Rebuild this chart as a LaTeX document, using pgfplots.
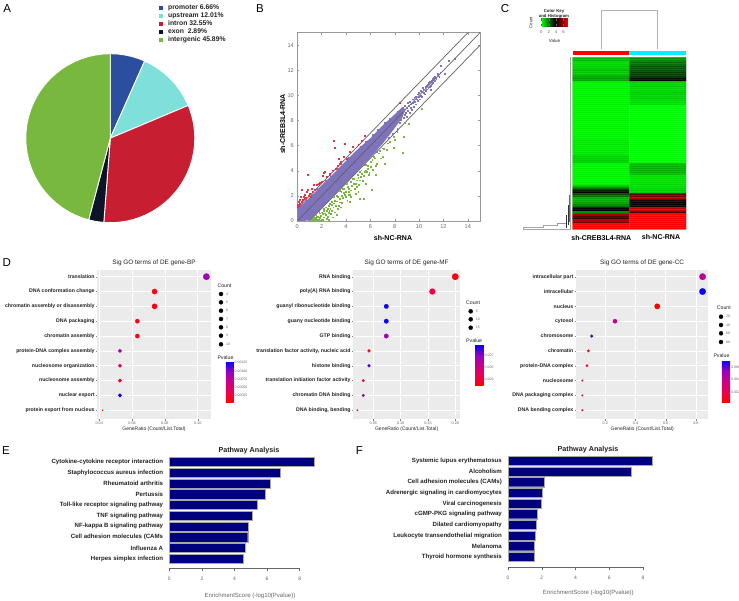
\documentclass[border=0pt]{standalone}
\usepackage{pgfplots}
\pgfplotsset{compat=1.18}
\usepackage{fontspec}
\setmainfont{Liberation Sans}
\pgfkeys{/pgf/number format/assume math mode=true}
\newcommand{\fs}[1]{\fontsize{#1}{#1}\selectfont}

\definecolor{pblue}{HTML}{2B4F9E}
\definecolor{pcyan}{HTML}{7FDFD9}
\definecolor{pred}{HTML}{C81E32}
\definecolor{pdark}{HTML}{0E1428}
\definecolor{pgreen}{HTML}{78B83F}
\definecolor{cloud}{HTML}{7F74BC}
\definecolor{panelgray}{HTML}{EBEBEB}
\definecolor{navybar}{HTML}{00007F}
\definecolor{labelgray}{HTML}{222222}
\definecolor{tickgray}{HTML}{666666}
\definecolor{stripred}{RGB}{255,0,0}
\definecolor{stripcyan}{RGB}{0,240,255}
\definecolor{upred}{RGB}{225,50,70}

\pgfplotsset{
  colormap={rb}{rgb255(0cm)=(255,0,0); rgb255(1cm)=(235,0,80); rgb255(2cm)=(200,0,135); rgb255(3cm)=(150,0,190); rgb255(4cm)=(0,0,255)},
  colormap={gbr}{rgb255(0cm)=(0,255,0); rgb255(1cm)=(0,0,0); rgb255(2cm)=(255,0,0)},
  goaxis/.style={
    scale only axis, height=149pt, ymin=0.55, ymax=10.59, y dir=reverse,
    ytick={1,...,10}, colormap name=rb,
    axis background/.style={fill=panelgray},
    grid=major, grid style={white,line width=0.5pt},
    axis line style={draw=none}, tick style={draw=gray,line width=0.3pt},
    major tick length=1.5pt, tick align=outside, tick pos=left,
    yticklabel style={font=\fs{5.2}\bfseries,text=labelgray,inner sep=1pt},
    xticklabel style={font=\fs{3.8},text=tickgray,inner sep=1pt},
    title style={font=\fs{6.4},text=labelgray,yshift=-5pt},
    xlabel style={font=\fs{5},text=labelgray,at={(axis description cs:0.5,-0.067)},anchor=center},
    xlabel={GeneRatio (Count/List.Total)},
  },
  gocbar/.style n args={5}{
    colorbar,
    colorbar style={
      at={(parent axis.south west)}, anchor=south west, xshift=#1pt, yshift=#2pt,
      scale only axis, width=#3pt, height=#4pt,
      ytick={#5}, yticklabels={#5}, scaled y ticks=false, ytick style={draw=none},
      yticklabel style={font=\fs{3.5},text=tickgray,inner sep=1pt},
      axis line style={draw=none},
    },
  },
  dots/.style={
    scatter, only marks, mark=*, line width=0.1pt,
    scatter/use mapped color={draw=mapped color,fill=mapped color},
    point meta=\thisrow{p},
    visualization depends on={\thisrow{r} \as \rad},
    scatter/@pre marker code/.append style={/tikz/mark size=\rad pt},
  },
  keydots/.style={
    scatter, only marks, mark=*,
    scatter/use mapped color={draw=black,fill=black},
    point meta=\thisrow{r},
    visualization depends on={\thisrow{r} \as \rad},
    visualization depends on={value \thisrow{l} \as \lab},
    scatter/@pre marker code/.append style={/tikz/mark size=\rad pt},
    nodes near coords={\lab},
    every node near coord/.style={font=\fs{3.5},text=tickgray,anchor=west,inner sep=0pt,xshift=5pt},
  },
  pathbar/.style={
    scale only axis, xmin=0, y dir=reverse, xtick={0,2,4,6,8}, ytick={0,...,9},
    axis x line*=bottom, axis y line*=left,
    x axis line style={draw=none,-}, y axis line style={draw=none,-},
    ytick style={draw=none}, xtick style={draw=tickgray,line width=0.4pt},
    major tick length=3pt, tick align=outside, clip=false,
    yticklabel style={font=\fs{6.1}\bfseries,text=labelgray,inner sep=0pt,xshift=-3pt},
    xticklabel style={font=\fs{5},text=tickgray,inner sep=2pt,yshift=-4pt},
    title style={font=\fs{7.2}\bfseries,text=labelgray,yshift=-6pt},
    xlabel style={font=\fs{6},text=tickgray,anchor=center},
    xlabel={EnrichmentScore (-log10(Pvalue))},
    title={Pathway Analysis},
    bar width=9.2pt,
  },
}

\begin{document}
\begin{tikzpicture}
\useasboundingbox (0,0) rectangle (739pt,600pt);

% A: pie, angles run clockwise from the top
\begin{axis}[
  at={(25.8pt,377.3pt)}, anchor=south west, scale only axis, width=169pt, height=169pt,
  xmin=-1, xmax=1, ymin=-1, ymax=1, hide axis, clip=false,
  legend style={at={(0.785,1.29)},anchor=north west,draw=none,fill=none,
    font=\fs{6.8}\bfseries,text=labelgray,row sep=1.5pt,inner sep=0pt,
    nodes={text height=5pt,text depth=1.5pt,inner ysep=0pt}},
  legend cell align=left,
  legend image code/.code={\fill[#1,draw=none] (0pt,-2pt) rectangle (4.4pt,2pt); \path[draw=none] (0pt,0pt) -- (7.5pt,0pt);},
  every axis plot/.append style={data cs=polar,draw=white,line width=0.9pt,line join=round},
]
\addplot[fill=pblue] coordinates {(90,0)(90,1)(85,1)(80,1)(75,1)(70,1)(66,1)(66,0)} --cycle;
\addplot[fill=pcyan] coordinates {(66,0)(66,1)(60,1)(55,1)(50,1)(45,1)(40,1)(35,1)(30,1)(25,1)(22.8,1)(22.8,0)} --cycle;
\addplot[fill=pred] coordinates {(22.8,0)(22.8,1)(20,1)(15,1)(10,1)(5,1)(0,1)(-5,1)(-10,1)(-15,1)(-20,1)(-25,1)(-30,1)(-35,1)(-40,1)(-45,1)(-50,1)(-55,1)(-60,1)(-65,1)(-70,1)(-75,1)(-80,1)(-85,1)(-90,1)(-94.4,1)(-94.4,0)} --cycle;
\addplot[fill=pdark] coordinates {(-94.4,0)(-94.4,1)(-100,1)(-104.8,1)(-104.8,0)} --cycle;
\addplot[fill=pgreen] coordinates {(-104.8,0)(-104.8,1)(-110,1)(-115,1)(-120,1)(-125,1)(-130,1)(-135,1)(-140,1)(-145,1)(-150,1)(-155,1)(-160,1)(-165,1)(-170,1)(-175,1)(-180,1)(-185,1)(-190,1)(-195,1)(-200,1)(-205,1)(-210,1)(-215,1)(-220,1)(-225,1)(-230,1)(-235,1)(-240,1)(-245,1)(-250,1)(-255,1)(-260,1)(-265,1)(-270,1)(-270,0)} --cycle;
\legend{promoter 6.66\%,upstream 12.01\%,intron 32.55\%,exon\ \ 2.89\%,intergenic 45.89\%}
\end{axis}

% B: scatter
\begin{axis}[
  at={(297.3pt,379pt)}, anchor=south west, scale only axis, width=182.7pt, height=188.3pt,
  xmin=0, xmax=15, ymin=0, ymax=15, xtick={0,2,...,14}, ytick={0,2,...,14},
  tick align=inside, major tick length=2pt,
  axis line style={draw=gray!80,line width=0.9pt}, tick style={draw=gray!80,line width=0.4pt},
  ticklabel style={font=\fs{5.6},text=tickgray},
  xlabel={sh-NC-RNA}, ylabel={sh-CREB3L4-RNA},
  label style={font=\fs{7}\bfseries,text=black},
  xlabel style={at={(axis description cs:0.524,-0.09)},anchor=center},
  ylabel style={at={(axis description cs:-0.08,0.515)},anchor=center},
]
% red, up
\addplot[only marks,mark=square*,mark size=0.45pt,color=upred,mark options={draw=none}] coordinates {
(3.0,6.42)(3.07,5.84)(3.86,6.18)(0.82,3.71)(5.56,6.76)(5.0,6.05)(8.38,9.42)(2.14,3.87)(2.08,3.6)(2.68,3.74)
(3.45,4.59)(3.4,4.93)(3.78,5.12)(4.05,4.99)(3.56,4.72)(3.15,4.19)(3.29,4.4)(1.73,3.0)(1.37,2.92)(2.0,3.13)
(0.36,2.52)(0.82,2.47)(1.18,2.6)(1.04,2.2)(0.63,2.07)(0.49,1.94)(0.22,1.67)(0.08,1.54)(0.16,1.35)(0.03,1.14)
(0.44,1.72)(0.9,2.0)(0.77,2.33)(1.45,2.47)(0.36,1.54)(0.0,1.27)(0.58,1.8)(1.1,1.94)(1.59,2.87)(2.27,3.93)
(4.55,5.92)(4.3,5.5)(5.3,6.4)(0.28,1.95)(0.12,1.2)(0.7,1.85)(1.3,2.35)(2.4,3.55)(2.9,4.05)(1.85,3.05)
};
% green, down
\addplot[only marks,mark=square*,mark size=0.45pt,color=pgreen,mark options={draw=none}] coordinates {
(1.15,0.08)(1.3,0.1)(1.45,0.05)(1.6,0.12)(1.25,0.18)(1.5,0.25)(1.75,0.1)(1.9,0.06)(2.1,0.12)(1.7,0.3)
(1.95,0.4)(2.2,0.3)(2.05,0.55)(1.85,0.62)(2.4,0.2)(2.6,0.1)(2.35,0.5)(2.55,0.65)(2.2,0.8)(2.45,0.85)
(2.75,0.55)(2.9,0.3)(3.05,0.7)(2.7,1.0)(2.95,1.1)(2.55,1.2)(3.15,1.25)(3.3,0.95)(3.45,1.5)(3.1,1.65)
(2.85,1.55)(3.55,1.1)(3.7,1.85)(3.35,1.95)(3.9,2.1)(3.6,2.3)(4.1,1.65)(4.25,2.35)(3.85,2.6)(4.4,1.95)
(4.5,2.8)(4.15,2.75)(4.7,2.55)(4.35,3.1)(4.85,3.25)(4.6,3.35)(5.05,2.9)(5.2,3.5)(4.95,3.7)(5.4,3.2)
(5.5,3.95)(5.25,4.05)(5.75,4.4)(5.55,4.45)(5.9,3.85)(6.05,4.7)(6.2,4.1)(6.35,5.0)(6.55,4.55)(6.7,5.4)
(6.85,5.0)(7.0,5.8)(8.68,5.44)(10.2,8.96)(9.15,7.72)(8.85,7.82)(8.7,6.68)(8.03,6.45)(7.95,5.84)(7.34,5.65)
(6.99,5.12)(7.07,5.78)(6.1,2.52)(5.42,1.8)(5.15,1.8)(4.27,1.51)(5.0,2.33)(4.33,2.07)(5.84,3.66)(6.19,4.06)
(5.7,3.93)(1.55,0.45)(1.35,0.3)(2.3,1.1)(2.65,1.4)(3.25,2.0)(3.75,2.55)(4.05,2.95)(4.55,3.4)(5.1,3.95)
(5.65,4.5)(6.25,5.1)(6.8,5.6)(7.4,6.2)(7.6,6.3)(7.9,6.75)(8.2,7.1)(3.0,1.9)(3.5,2.4)(2.15,1.0)
(1.8,0.75)(2.8,0.85)(3.65,1.45)(4.8,2.2)(5.6,3.0)(6.4,3.7)(7.2,4.6)(4.0,2.3)(2.5,0.35)(3.2,0.5)
(1.4,0.18)(1.65,0.38)(1.85,0.28)(2.0,0.7)(2.28,0.62)(2.5,0.95)(2.62,0.8)(2.82,1.3)(3.02,1.42)(3.22,1.58)
(3.42,1.22)(3.5,1.78)(3.62,2.05)(3.8,2.25)(3.98,1.9)(4.18,2.1)(4.2,2.55)(4.42,2.45)(4.62,2.95)(4.78,3.0)
(4.9,2.7)(5.0,3.45)(5.15,3.25)(5.3,3.75)(5.45,3.6)(5.6,4.0)(5.8,4.15)(6.0,4.3)(6.15,4.85)(6.4,4.4)
};
% purple, dense part of the cloud
\addplot[fill=cloud,draw=none] coordinates {
(0,0)(0,1.0)(0.5,1.4)(1,1.85)(2,2.85)(3,3.8)(4,4.8)(5,5.75)(6,6.6)(7,7.6)(8,8.5)(8.6,9.05)
(8.9,8.9)(8.6,8.2)(8,7.4)(7,6.15)(6,5.05)(5,4.05)(4,3.03)(3,2.03)(2,1.03)(1,0.03)
} --cycle;
% purple, thin upper part and fringe
\addplot[only marks,mark=square*,mark size=0.45pt,color=cloud,mark options={draw=none}] coordinates {
(8.4,8.6)(8.5,8.1)(8.55,8.9)(8.6,8.4)(8.65,9.0)(8.7,8.2)(8.75,8.8)(8.8,8.5)(8.85,9.2)(8.9,8.6)
(8.95,8.3)(9.0,9.0)(9.05,9.4)(9.1,8.8)(9.15,9.2)(9.2,8.6)(9.25,9.5)(9.3,9.0)(9.35,9.3)(9.4,8.9)
(9.45,9.7)(9.5,9.4)(9.55,9.1)(9.6,9.8)(9.65,9.5)(9.7,9.9)(9.75,9.3)(9.8,9.7)(9.85,10.1)(9.9,9.6)
(9.95,9.9)(10.0,10.2)(10.05,9.7)(10.1,10.4)(10.15,10.0)(10.2,10.3)(10.25,9.9)(10.3,10.6)(10.35,10.2)(10.4,10.5)
(10.45,10.1)(10.5,10.7)(10.55,10.4)(10.6,10.8)(10.65,10.5)(10.7,10.9)(10.75,10.6)(10.8,11.0)(10.85,10.7)(10.9,11.1)
(10.95,10.8)(10.98,10.43)(11.0,11.2)(11.05,10.9)(11.1,11.3)(11.15,11.0)(11.2,11.4)(11.25,11.15)(11.3,11.5)(11.4,11.3)
(11.5,11.6)(11.55,11.75)(11.65,11.5)(11.75,11.85)(11.8,12.35)(12.1,11.75)(12.4,12.8)(12.9,12.95)
(0.3,1.25)(0.7,1.7)(1.2,2.1)(1.6,2.55)(2.3,3.2)(2.7,3.6)(3.3,4.15)(3.6,4.55)(4.2,5.05)(4.6,5.4)
(5.2,5.95)(5.6,6.35)(6.2,6.9)(6.6,7.3)(7.2,7.85)(7.6,8.15)(8.2,8.75)
(7.5,6.6)(8.2,7.35)(6.5,5.55)(5.5,4.55)(8.4,7.8)(7.8,6.95)
};
\addplot[gray!75!black,line width=0.7pt] coordinates {(0,0)(15,15)};
\addplot[gray!75!black,line width=0.7pt] coordinates {(0,1)(14,15)};
\addplot[gray!75!black,line width=0.7pt] coordinates {(1,0)(15,14)};
\end{axis}

% C: heat map, 2 px per row
\begin{axis}[
  at={(572.7pt,370.5pt)}, anchor=south west, scale only axis, width=113.3pt, height=172pt,
  xmin=-0.5, xmax=1.5, ymin=-0.5, ymax=85.5, y dir=reverse, hide axis,
  colormap name=gbr, point meta min=0, point meta max=7.2,
  colorbar horizontal,
  colorbar style={
    at={(parent axis.south west)}, anchor=south west, xshift=-31.4pt, yshift=211.8pt,
    scale only axis, width=26.7pt, height=8pt,
    xtick={0,2,4,6}, xticklabels={0,2,4,6}, ytick=\empty,
    xticklabel style={font=\fs{4.2},text=tickgray,inner sep=1pt,yshift=-3pt},
    tick style={draw=tickgray,line width=0.2pt}, major tick length=2.5pt,
    axis line style={draw=none},
  },
]
\addplot[matrix plot*,mesh/cols=2,point meta=explicit,shader=faceted,faceted color=mapped color,line width=0.15pt] coordinates {
(0,0)[1.0](1,0)[1.6] (0,1)[1.0](1,1)[1.6] (0,2)[0.6](1,2)[2.0] (0,3)[0.6](1,3)[2.0]
(0,4)[0.7](1,4)[2.4] (0,5)[0.7](1,5)[2.4] (0,6)[1.0](1,6)[2.4] (0,7)[0.8](1,7)[2.7]
(0,8)[0.8](1,8)[2.7] (0,9)[1.3](1,9)[2.8] (0,10)[1.4](1,10)[3.3] (0,11)[1.3](1,11)[3.5]
(0,12)[0.3](1,12)[0.7] (0,13)[0.2](1,13)[0.6] (0,14)[0.2](1,14)[0.7] (0,15)[0.2](1,15)[0.6]
(0,16)[0.2](1,16)[0.6] (0,17)[0.2](1,17)[0.8] (0,18)[0.2](1,18)[0.7] (0,19)[0.2](1,19)[0.6]
(0,20)[0.2](1,20)[0.7] (0,21)[0.2](1,21)[0.6] (0,22)[0.2](1,22)[0.5] (0,23)[0.2](1,23)[0.5]
(0,24)[0.2](1,24)[0.1] (0,25)[0.2](1,25)[0.1] (0,26)[0.2](1,26)[0.1] (0,27)[0.2](1,27)[0.1]
(0,28)[0.2](1,28)[0.1] (0,29)[0.2](1,29)[0.1] (0,30)[0.2](1,30)[0.1] (0,31)[0.2](1,31)[0.1]
(0,32)[0.2](1,32)[0.1] (0,33)[0.2](1,33)[0.1] (0,34)[0.2](1,34)[0.1] (0,35)[0.2](1,35)[0.1]
(0,36)[0.2](1,36)[0.1] (0,37)[0.2](1,37)[0.1] (0,38)[0.2](1,38)[0.1] (0,39)[0.2](1,39)[0.1]
(0,40)[0.2](1,40)[0.1] (0,41)[0.35](1,41)[0.1] (0,42)[0.35](1,42)[0.1] (0,43)[0.35](1,43)[0.1]
(0,44)[0.35](1,44)[0.1] (0,45)[0.35](1,45)[0.1] (0,46)[0.35](1,46)[0.1] (0,47)[0.35](1,47)[0.1]
(0,48)[0.35](1,48)[0.1] (0,49)[0.7](1,49)[0.1] (0,50)[0.7](1,50)[0.1] (0,51)[0.7](1,51)[0.1]
(0,52)[0.7](1,52)[0.1] (0,53)[0.2](1,53)[1.1] (0,54)[0.2](1,54)[1.1] (0,55)[0.2](1,55)[1.1]
(0,56)[0.2](1,56)[1.1] (0,57)[0.2](1,57)[1.1] (0,58)[0.2](1,58)[0.9] (0,59)[0.2](1,59)[0.5]
(0,60)[0.2](1,60)[0.5] (0,61)[0.2](1,61)[0.5] (0,62)[0.2](1,62)[0.5] (0,63)[0.2](1,63)[0.5]
(0,64)[1.0](1,64)[0.5] (0,65)[2.0](1,65)[0.6] (0,66)[3.2](1,66)[0.7] (0,67)[3.8](1,67)[0.7]
(0,68)[2.6](1,68)[5.0] (0,69)[2.0](1,69)[5.2] (0,70)[1.2](1,70)[6.0] (0,71)[1.1](1,71)[3.9]
(0,72)[1.3](1,72)[3.6] (0,73)[1.6](1,73)[3.6] (0,74)[2.0](1,74)[3.9] (0,75)[3.5](1,75)[6.3]
(0,76)[3.6](1,76)[6.5] (0,77)[1.6](1,77)[4.5] (0,78)[6.0](1,78)[7.2] (0,79)[4.8](1,79)[7.2]
(0,80)[4.3](1,80)[7.2] (0,81)[6.0](1,81)[7.2] (0,82)[5.2](1,82)[7.2] (0,83)[7.2](1,83)[7.2]
(0,84)[7.2](1,84)[7.2] (0,85)[7.2](1,85)[7.2]
};
\end{axis}

% D: GO dot plots
\begin{axis}[
  goaxis, at={(97.3pt,181pt)}, anchor=south west, width=113.4pt,
  title={Sig GO terms of DE gene-BP},
  xmin=0.0388, xmax=0.1079, xtick={0.04,0.06,0.08,0.1}, xticklabels={0.04,0.06,0.08,0.10},
  yticklabels={translation,DNA conformation change,chromatin assembly or disassembly,DNA packaging,chromatin assembly,protein-DNA complex assembly,nucleosome organization,nucleosome assembly,nuclear export,protein export from nucleus},
  point meta min=0.00003, point meta max=0.0013,
  gocbar={120}{16.3}{7.7}{41.7}{0.00025,0.00050,0.00075,0.00100,0.00125},
]
\addplot[dots] table {
x y r p
0.1053 1 3.3 0.00095
0.0737 2 2.7 0.00012
0.0737 3 2.7 0.00012
0.0632 4 2.2 0.00012
0.0632 5 2.2 0.00012
0.0526 6 1.9 0.00085
0.0526 7 1.9 0.00055
0.0526 8 1.9 0.00025
0.0526 9 1.9 0.00125
0.0421 10 0.7 0.00015
};
\end{axis}
\begin{axis}[
  goaxis, at={(353.3pt,181pt)}, anchor=south west, width=106.7pt,
  title={Sig GO terms of DE gene-MF},
  xmin=0.0134, xmax=0.2086, xtick={0.05,0.1,0.15,0.2}, xticklabels={0.05,0.10,0.15,0.20},
  yticklabels={RNA binding,poly(A) RNA binding,guanyl ribonucleotide binding,guany nucleotide binding,GTP binding,{translation factor activity, nucleic acid},histone binding,translation initiation factor activity,chromatin DNA binding,{DNA binding, bending}},
  point meta min=0.0019, point meta max=0.00864,
  gocbar={113.4}{33}{8.3}{41}{0.003,0.005,0.007},
]
\addplot[dots] table {
x y r p
0.2 1 3.3 0.0021
0.158 2 3 0.0032
0.0737 3 2.3 0.0085
0.0737 4 2.3 0.0085
0.0737 5 2.3 0.0066
0.0421 6 1.6 0.0021
0.0421 7 1.6 0.0078
0.0316 8 1.4 0.003
0.0316 9 1.4 0.0072
0.021 10 0.8 0.005
};
\end{axis}
\begin{axis}[
  goaxis, at={(576pt,181pt)}, anchor=south west, width=132.3pt,
  title={Sig GO terms of DE gene-CC},
  xmin=0.006, xmax=0.882, xtick={0.2,0.4,0.6,0.8}, xticklabels={0.2,0.4,0.6,0.8},
  yticklabels={intracellular part,intracellular,nucleus,cytosol,chromosome,chromatin,protein-DNA complex,nucleosome,DNA packaging complex,DNA bending complex},
  point meta min=0.0003, point meta max=0.0071,
  gocbar={137.3}{16.3}{8.3}{42.7}{0.002,0.004,0.006},
]
\addplot[dots] table {
x y r p
0.844 1 3.3 0.0042
0.844 2 3.3 0.007
0.544 3 2.8 0.0004
0.264 4 2.2 0.0036
0.11 5 1.5 0.0064
0.088 6 1.4 0.0012
0.079 7 1.3 0.0012
0.048 8 0.9 0.001
0.048 9 0.9 0.001
0.048 10 0.9 0.001
};
\end{axis}

% E: pathway bars
\begin{axis}[
  pathbar, at={(169.3pt,31.7pt)}, anchor=south west, width=146.7pt, height=110.6pt,
  xmax=9, ymin=-0.4, ymax=9.9,
  yticklabels={Cytokine-cytokine receptor interaction,Staphylococcus aureus infection,Rheumatoid arthritis,Pertussis,Toll-like receptor signaling pathway,TNF signaling pathway,NF-kappa B signaling pathway,Cell adhesion molecules (CAMs,Influenza A,Herpes simplex infection},
  title style={at={(axis description cs:0.543,1.063)},anchor=center},
  xlabel style={at={(axis description cs:0.55,-0.25)}},
]
\addplot[xbar,fill=navybar,draw=gray!70,line width=0.4pt] coordinates {
(8.92,0)(6.83,1)(6.22,2)(5.89,3)(5.38,4)(5.09,5)(4.83,6)(4.81,7)(4.64,8)(4.52,9)
};
\draw[tickgray,line width=0.4pt] (axis cs:0,9.9) -- (axis cs:8,9.9);
\end{axis}

% F: pathway bars
\begin{axis}[
  pathbar, at={(508pt,33.3pt)}, anchor=south west, width=148.5pt, height=110.4pt,
  xmax=8.8, ymin=-0.42, ymax=9.93,
  yticklabels={Systemic lupus erythematosus,Alcoholism,Cell adhesion molecules (CAMs),Adrenergic signaling in cardiomyocytes,Viral carcinogenesis,cGMP-PKG signaling pathway,Dilated cardiomyopathy,Leukocyte transendothelial migration,Melanoma,Thyroid hormone synthesis},
  title style={at={(axis description cs:0.539,1.06)},anchor=center},
  xlabel style={at={(axis description cs:0.541,-0.235)}},
]
\addplot[xbar,fill=navybar,draw=gray!70,line width=0.4pt] coordinates {
(8.52,0)(7.31,1)(2.15,2)(2.04,3)(1.98,4)(1.72,5)(1.68,6)(1.64,7)(1.56,8)(1.56,9)
};
\draw[tickgray,line width=0.4pt] (axis cs:0,9.93) -- (axis cs:8,9.93);
\end{axis}

% overlay in image pixels: dendrograms, colour strips, count keys, free text
\begin{axis}[
  at={(0pt,0pt)}, anchor=south west, scale only axis, width=739pt, height=600pt,
  xmin=0, xmax=739, ymin=0, ymax=600, y dir=reverse, hide axis, clip=false,
]
\addplot[fill=stripred,draw=none] coordinates {(572.7,51)(629.3,51)(629.3,55.3)(572.7,55.3)} --cycle;
\addplot[fill=stripcyan,draw=none] coordinates {(629.3,51)(686,51)(686,55.3)(629.3,55.3)} --cycle;
\addplot[gray!60,line width=0.9pt] coordinates {(601,49)(601,10.3)(657.3,10.3)(657.3,49)};
\addplot[gray!70,line width=0.8pt] coordinates {(570.8,57)(570.8,229)};
\addplot[gray!70,line width=0.6pt] coordinates {(543,227)(523.5,227)(523.5,229.5)(571,229.5)};
\addplot[gray!70,line width=0.6pt] coordinates {(557,225)(543,225)(543,228)};
\addplot[gray!80,line width=0.6pt] coordinates {(566,223)(557,223)(557,226)};
\addplot[black!80,line width=0.4pt] coordinates {(566,215)(566,228)};
\addplot[black!80,line width=0.4pt] coordinates {(568,205)(568,225)};
\addplot[black!60,line width=0.4pt] coordinates {(569.5,195)(569.5,222)};

\addplot[keydots] table {
x y r l
221 294 0.7 4
221 302.3 1.7 5
221 310.7 2.1 6
221 319 2.5 7
221 327.3 2.8 8
221 335.7 3.1 9
221 344.3 3.4 10
};
\addplot[keydots] table {
x y r l
470.7 311.3 1.6 5
470.7 319.3 2.4 10
470.7 327.7 3.0 15
};
\addplot[keydots] table {
x y r l
721 316.7 1.7 20
721 325 2.3 40
721 333.3 2.7 60
721 342 3.1 80
};

\node[font=\fs{5.2},text=labelgray,anchor=west,inner sep=0pt] at (217.3,286) {Count};
\node[font=\fs{5.2},text=labelgray,anchor=west,inner sep=0pt] at (217.3,357.3) {Pvalue};
\node[font=\fs{5.2},text=labelgray,anchor=west,inner sep=0pt] at (466,303) {Count};
\node[font=\fs{5.2},text=labelgray,anchor=west,inner sep=0pt] at (466,341) {Pvalue};
\node[font=\fs{5.2},text=labelgray,anchor=west,inner sep=0pt] at (716.7,308) {Count};
\node[font=\fs{5.2},text=labelgray,anchor=west,inner sep=0pt] at (713.3,355.7) {Pvalue};

\node[font=\fs{7}\bfseries,text=black] at (601.3,238) {sh-CREB3L4-RNA};
\node[font=\fs{7}\bfseries,text=black] at (661,237.3) {sh-NC-RNA};
\node[font=\fs{4.3}\bfseries,text=labelgray] at (554,11) {Color Key};
\node[font=\fs{4.3}\bfseries,text=labelgray] at (554,16.7) {and Histogram};
\node[font=\fs{4.3},text=labelgray,rotate=90] at (531,22.7) {Count};
\node[font=\fs{4.5},text=labelgray] at (554.5,40.7) {Value};

\node[font=\fs{11.5}] at (7.2,8.3) {A};
\node[font=\fs{11.5}] at (260,8.3) {B};
\node[font=\fs{11.5}] at (505,9) {C};
\node[font=\fs{11.5}] at (6.7,262.3) {D};
\node[font=\fs{11.5}] at (6,451) {E};
\node[font=\fs{11.5}] at (359.5,451) {F};
\end{axis}
\end{tikzpicture}
\end{document}
